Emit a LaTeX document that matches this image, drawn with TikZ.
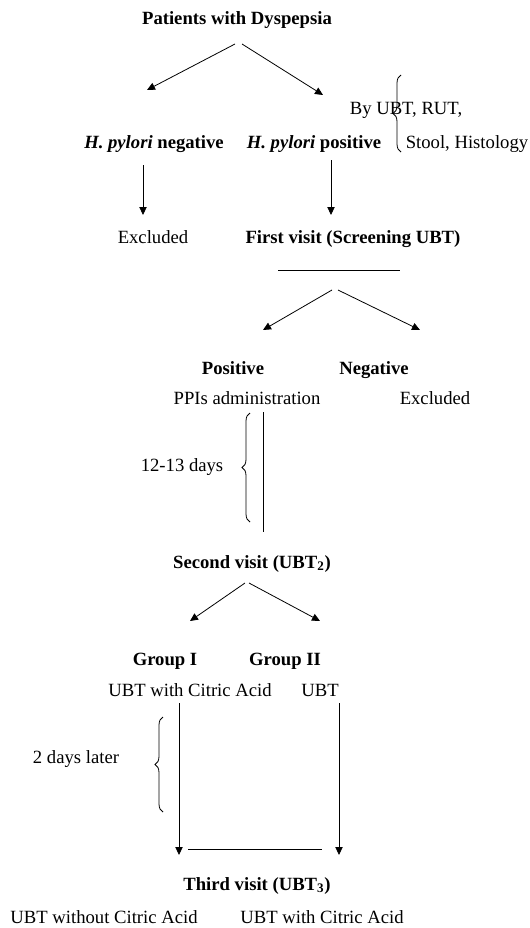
\documentclass[tikz,border=0pt]{standalone}
\usepackage{fontspec}
\setmainfont{Liberation Serif}
\usetikzlibrary{arrows.meta,decorations.pathreplacing,positioning}

\tikzset{
    stage/.style={font=\fontsize{14}{16}\selectfont\bfseries, inner sep=1pt, anchor=base},
    note/.style={font=\fontsize{14}{16}\selectfont, inner sep=1pt, anchor=base},
    flow/.style={-{Triangle[length=6pt,width=5.5pt]}, line width=0.6pt},
    bar/.style={line width=0.6pt},
    curly/.style={decorate, decoration={brace, amplitude=6pt}, line width=0.6pt}
}

\begin{document}
\begin{tikzpicture}[x=0.75pt,y=-0.75pt]
    \useasboundingbox (0,0) rectangle (530,928);
    % texts
    \path
        (237,24)    node[stage] (pat){Patients with Dyspepsia}
        (154,148)   node[stage] (hneg){\textit{H. pylori} negative}
        (314,148)   node[stage] (hpos){\textit{H. pylori} positive}
        (406,114)   node[note]  (byubt){By UBT, RUT,}
        (467,148)   node[note]  (stool){Stool, Histology}
        (153,243)   node[note]  (excla){Excluded}
        (353,243)   node[stage] (first){First visit (Screening UBT)}
        (233,374)   node[stage] (pos){Positive}
        (374,374)   node[stage] (neg){Negative}
        (247,404)   node[note]  (ppi){PPIs administration}
        (435,404)   node[note]  (exclb){Excluded}
        (182,471)   node[note]  (daysa){12-13 days}
        (252,568)   node[stage] (second){Second visit (UBT\textsubscript{2})}
        (165,665)   node[stage] (grpa){Group I}
        (285,665)   node[stage] (grpb){Group II}
        (190,696)   node[note]  (ubtca){UBT with Citric Acid}
        (320,696)   node[note]  (ubt){UBT}
        (76,763)    node[note]  (daysb){2 days later}
        (257,890)   node[stage] (third){Third visit (UBT\textsubscript{3})}
        (104,923)   node[note]  (ubtwo){UBT without Citric Acid}
        (322,923)   node[note]  (ubtw){UBT with Citric Acid}
     ;
    % connector ends
    \path
        (235,44) coordinate (pa) (147,90) coordinate (hna)
        (242,44) coordinate (pb) (323,95) coordinate (hpa)
        (143,165) coordinate (hnb) (143,215) coordinate (exa)
        (331,160) coordinate (hpb) (331,215) coordinate (fia)
        (278,270) coordinate (fla) (400,270) coordinate (flb)
        (332,290) coordinate (fsa) (263,330) coordinate (psa)
        (338,290) coordinate (fsb) (420,330) coordinate (nga)
        (263,412) coordinate (ppa) (263,532) coordinate (ppb)
        (245,583) coordinate (sva) (190,621) coordinate (gaa)
        (249,583) coordinate (svb) (320,621) coordinate (gba)
        (179,703) coordinate (uca) (179,855) coordinate (ucb)
        (339,703) coordinate (uba) (339,855) coordinate (ubb)
        (188,849) coordinate (tla) (322,849) coordinate (tlb)
        (401,152) coordinate (bra) (401,75) coordinate (brb)
        (250,522) coordinate (brc) (250,413) coordinate (brd)
        (163,812) coordinate (bre) (163,717) coordinate (brf)
     ;
     \draw [flow] (pa)--(hna);
     \draw [flow] (pb)--(hpa);
     \draw [flow] (hnb)--(exa);
     \draw [flow] (hpb)--(fia);
     \draw [bar]  (fla)--(flb);
     \draw [flow] (fsa)--(psa);
     \draw [flow] (fsb)--(nga);
     \draw [bar]  (ppa)--(ppb);
     \draw [flow] (sva)--(gaa);
     \draw [flow] (svb)--(gba);
     \draw [flow] (uca)--(ucb);
     \draw [flow] (uba)--(ubb);
     \draw [bar]  (tla)--(tlb);
    % braces
     \draw [curly] (bra)--(brb);
     \draw [curly] (brc)--(brd);
     \draw [curly] (bre)--(brf);
\end{tikzpicture}
\end{document}
